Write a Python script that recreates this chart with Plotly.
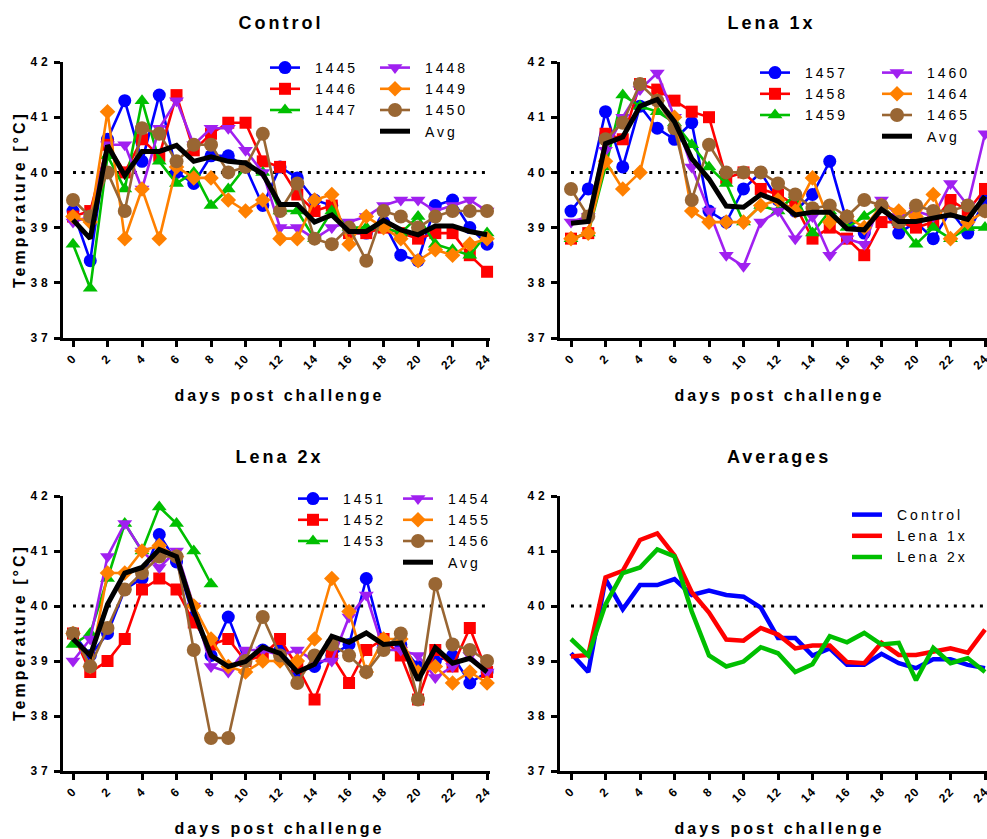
import plotly.graph_objects as go

W, H = 987, 839
days = list(range(25))

# ---------------- data ----------------
ctrl_ids = ["1445", "1446", "1447", "1448", "1449", "1450"]
c1445 = [39.3, 38.4, 40.6, 41.3, 40.2, 41.4, 40.0, 39.8, 40.3, 40.3, 40.1, 39.4, 40.1, 39.9, 39.5, 39.4, 38.9, 38.9, 39.1, 38.5, 38.4, 39.4, 39.5, 39.0, 38.7]
c1446 = [39.2, 39.3, 40.5, 40.0, 40.6, 40.3, 41.4, 40.4, 40.7, 40.9, 40.9, 40.2, 40.1, 39.6, 39.3, 39.4, 38.9, 38.9, 39.0, 38.9, 38.8, 38.9, 38.9, 38.5, 38.2]
c1447 = [38.7, 37.9, 40.3, 39.7, 41.3, 40.2, 39.8, 40.0, 39.4, 39.7, 40.1, 40.0, 39.3, 39.3, 38.8, 39.3, 39.0, 39.0, 39.0, 38.9, 39.2, 38.7, 38.6, 38.5, 38.9]
c1448 = [39.1, 39.2, 40.5, 40.5, 39.7, 40.8, 41.3, 40.5, 40.8, 40.8, 40.4, 40.0, 39.0, 39.0, 38.8, 39.0, 39.1, 39.2, 39.4, 39.5, 39.5, 39.3, 39.4, 39.5, 39.3]
c1449 = [39.2, 39.1, 41.1, 38.8, 39.7, 38.8, 40.1, 39.9, 39.9, 39.5, 39.3, 39.5, 38.8, 38.8, 39.5, 39.6, 38.7, 39.2, 39.0, 38.8, 38.4, 38.6, 38.5, 38.7, 38.8]
c1450 = [39.5, 39.2, 40.0, 39.3, 40.8, 40.7, 40.2, 40.5, 40.5, 40.0, 40.1, 40.7, 39.3, 39.8, 38.8, 38.7, 39.0, 38.4, 39.3, 39.2, 39.0, 39.2, 39.3, 39.3, 39.3]
ctrl_avg = [39.14, 38.8, 40.49, 39.94, 40.38, 40.38, 40.49, 40.2, 40.28, 40.2, 40.17, 39.97, 39.42, 39.42, 39.1, 39.23, 38.93, 38.93, 39.13, 38.96, 38.87, 39.03, 39.03, 38.93, 38.87]

l1_ids = ["1457", "1458", "1459", "1460", "1464", "1465"]
l1457 = [39.3, 39.7, 41.1, 40.1, 41.2, 40.8, 40.6, 40.9, 39.3, 39.1, 39.7, 40.0, 39.5, 39.3, 39.6, 40.2, 39.1, 38.9, 39.4, 38.9, 39.1, 38.8, 39.3, 38.9, 39.5]
l1458 = [38.8, 38.9, 40.7, 40.6, 41.6, 41.5, 41.3, 41.1, 41.0, 39.9, 40.0, 39.7, 39.6, 39.4, 38.8, 39.0, 38.8, 38.5, 39.1, 39.1, 39.0, 39.1, 39.5, 39.3, 39.7]
l1459 = [38.8, 38.9, 40.1, 41.4, 41.2, 41.1, 40.9, 40.5, 40.1, 39.8, 39.1, 39.4, 39.3, 39.6, 38.9, 39.3, 39.0, 39.2, 39.4, 39.1, 38.7, 39.0, 38.8, 39.0, 39.0]
l1460 = [39.1, 39.2, 40.4, 41.0, 41.5, 41.8, 41.0, 40.1, 39.3, 38.5, 38.3, 39.1, 39.3, 38.8, 39.2, 38.5, 38.8, 38.7, 39.5, 39.2, 39.3, 39.2, 39.8, 39.4, 40.7]
l1464 = [38.8, 38.9, 40.2, 39.7, 40.0, 41.3, 41.0, 39.3, 39.1, 39.1, 39.1, 39.4, 39.5, 39.3, 39.9, 39.1, 39.2, 39.0, 39.4, 39.3, 39.2, 39.6, 38.8, 39.1, 39.3]
l1465 = [39.7, 39.2, 40.6, 40.9, 41.6, 41.3, 40.8, 39.5, 40.5, 40.0, 40.0, 40.0, 39.8, 39.6, 39.35, 39.4, 39.2, 39.5, 39.4, 39.1, 39.4, 39.3, 39.3, 39.4, 39.3]
l1_avg = [39.08, 39.11, 40.52, 40.64, 41.2, 41.32, 40.92, 40.25, 39.88, 39.39, 39.37, 39.6, 39.48, 39.23, 39.28, 39.28, 38.98, 38.96, 39.33, 39.11, 39.11, 39.17, 39.23, 39.15, 39.57]

l2_ids = ["1451", "1452", "1453", "1454", "1455", "1456"]
m1451 = [39.5, 39.1, 39.5, 40.3, 40.5, 41.3, 40.8, 39.8, 39.1, 39.8, 39.0, 39.2, 39.2, 38.8, 38.9, 39.1, 39.3, 40.5, 39.3, 39.3, 38.9, 39.0, 39.1, 38.6, 38.8]
m1452 = [39.5, 38.8, 39.0, 39.4, 40.3, 40.5, 40.3, 39.7, 39.3, 39.4, 39.0, 39.1, 39.4, 38.9, 38.3, 39.1, 38.6, 39.2, 39.4, 39.1, 38.3, 39.2, 38.9, 39.6, 38.8]
m1453 = [39.3, 39.5, 40.5, 41.5, 41.0, 41.8, 41.5, 41.0, 40.4]
m1454 = [39.0, 39.4, 40.9, 41.5, 41.0, 40.7, 41.0, 40.0, 38.9, 38.8, 39.2, 39.2, 39.1, 39.2, 39.0, 39.0, 39.8, 40.2, 39.2, 39.2, 39.1, 38.7, 38.9, 39.1, 38.8]
m1455 = [39.5, 38.9, 40.6, 40.6, 41.0, 41.1, 40.9, 40.0, 39.4, 38.9, 38.8, 39.0, 39.0, 39.0, 39.4, 40.5, 39.9, 38.8, 39.4, 39.4, 38.8, 38.9, 38.6, 38.8, 38.6]
m1456 = [39.5, 38.9, 39.6, 40.3, 40.6, 40.9, 40.9, 39.2, 37.6, 37.6, 39.0, 39.8, 39.1, 38.6, 39.1, 39.3, 39.1, 38.8, 39.2, 39.5, 38.3, 40.4, 39.3, 39.2, 39.0]
l2_avg = [39.4, 39.1, 40.03, 40.6, 40.7, 41.03, 40.9, 39.9, 39.1, 38.9, 38.99, 39.25, 39.14, 38.8, 38.94, 39.45, 39.34, 39.51, 39.3, 39.33, 38.65, 39.24, 38.96, 39.05, 38.8]

panel_titles = ["Control", "Lena 1x", "Lena 2x", "Averages"]
avg_names = ["Control", "Lena 1x", "Lena 2x"]
x_ticks = list(range(0, 25, 2))
y_ticks = [37, 38, 39, 40, 41, 42]

# ---------------- styling ----------------
FONT = "Liberation Sans, Arial, Helvetica, sans-serif"
colors = ["#0000FF", "#FF0000", "#00BF00", "#A020F0", "#FF8000", "#996633"]
symbols = ["circle", "square", "triangle-up", "triangle-down", "diamond", "circle"]
msizes = [13, 12, 13, 13, 12, 14]

fig = go.Figure()

def add_group(ids, series, avg, ax, leg_a, leg_b):
    for i, (name, ys) in enumerate(zip(ids, series)):
        fig.add_trace(go.Scatter(
            x=days[:len(ys)], y=ys, name=name, mode="lines+markers",
            line=dict(color=colors[i], width=2.6),
            marker=dict(color=colors[i], symbol=symbols[i], size=msizes[i], line=dict(width=0)),
            xaxis="x" + ax, yaxis="y" + ax, cliponaxis=False,
            legend=leg_a if i < 3 else leg_b,
        ))
    fig.add_trace(go.Scatter(
        x=days, y=avg, name="Avg", mode="lines",
        line=dict(color="black", width=5),
        xaxis="x" + ax, yaxis="y" + ax, cliponaxis=False, legend=leg_b,
    ))

add_group(ctrl_ids, [c1445, c1446, c1447, c1448, c1449, c1450], ctrl_avg, "", "legend", "legend2")
add_group(l1_ids, [l1457, l1458, l1459, l1460, l1464, l1465], l1_avg, "2", "legend3", "legend4")
add_group(l2_ids, [m1451, m1452, m1453, m1454, m1455, m1456], l2_avg, "3", "legend5", "legend6")

for name, ys, col in zip(avg_names, [ctrl_avg, l1_avg, l2_avg], ["#0000FF", "#FF0000", "#00BF00"]):
    fig.add_trace(go.Scatter(
        x=days, y=ys, name=name, mode="lines",
        line=dict(color=col, width=4.5),
        xaxis="x4", yaxis="y4", cliponaxis=False, legend="legend7",
    ))

# ---------------- axes ----------------
def fx(p):
    return p / W

def fy(p):
    return 1 - p / H

L_dom = [fx(63), fx(490)]
R_dom = [fx(560), 1.0]
T_dom = [fy(338), fy(62)]
B_dom = [fy(771), fy(496)]
L_rng = [-0.58, 24.17]
R_rng = [-0.638, 24.116]

tickfont = dict(family=FONT, size=12, color="black", weight="bold")
axis_common = dict(showline=True, linewidth=2.6, linecolor="black", ticks="outside",
                   tickwidth=2.6, ticklen=6, tickcolor="black", showgrid=False,
                   zeroline=False, tickfont=tickfont, fixedrange=True,
                   ticklabeloverflow="allow", automargin=False)

layout = dict(width=W, height=H, margin=dict(l=0, r=0, t=0, b=0, autoexpand=False),
              plot_bgcolor="white", paper_bgcolor="white", showlegend=True,
              font=dict(family=FONT, color="black"))

axes_spec = [("", L_dom, T_dom, L_rng), ("2", R_dom, T_dom, R_rng),
             ("3", L_dom, B_dom, L_rng), ("4", R_dom, B_dom, R_rng)]
for ax, xd, yd, xr in axes_spec:
    layout["xaxis" + ax] = dict(axis_common, domain=xd, range=xr, tickvals=x_ticks,
                                tickangle=-45, anchor="y" + ax)
    layout["yaxis" + ax] = dict(axis_common, domain=yd, range=[37, 42], tickvals=y_ticks,
                                anchor="x" + ax)

fig.update_layout(**layout)

# dotted 40 °C reference lines
for ax, xr in [("", L_rng), ("2", R_rng), ("3", L_rng), ("4", R_rng)]:
    fig.add_shape(type="line", xref="x" + ax, yref="y" + ax, x0=0, x1=xr[1], y0=40, y1=40,
                  line=dict(color="black", width=3, dash="3px,5.7px"), layer="below")

# legends
leg_font = dict(family=FONT, size=14, color="black")
def leg(xp, yp):
    return dict(x=fx(xp), y=fy(yp), xanchor="left", yanchor="top", bgcolor="rgba(0,0,0,0)",
                font=leg_font, borderwidth=0, tracegroupgap=0, itemwidth=30)

fig.update_layout(
    legend=leg(265, 52), legend2=leg(375, 52),
    legend3=leg(755, 57), legend4=leg(877, 57),
    legend5=leg(293, 483), legend6=leg(398, 483),
    legend7=leg(847, 499),
)

# titles / axis labels
ann = []
title_font = dict(family=FONT, size=18, color="black", weight="bold")
lab_font = dict(family=FONT, size=16, color="black", weight="bold")
for text, xc, yc in [("Control", 281, 23), ("Lena 1x", 771, 23), ("Lena 2x", 279, 457), ("Averages", 779, 457)]:
    ann.append(dict(text=text, x=fx(xc), y=fy(yc), xref="paper", yref="paper",
                    showarrow=False, xanchor="center", yanchor="middle", font=title_font))
for xc, yc in [(279, 395), (779, 395), (279, 828), (779, 828)]:
    ann.append(dict(text="days post challenge", x=fx(xc), y=fy(yc), xref="paper", yref="paper",
                    showarrow=False, xanchor="center", yanchor="middle", font=lab_font))
for yc in [200, 633]:
    ann.append(dict(text="Temperature [°C]", x=fx(19), y=fy(yc), xref="paper", yref="paper",
                    showarrow=False, xanchor="center", yanchor="middle", textangle=-90, font=lab_font))
fig.update_layout(annotations=ann)

post = """
document.documentElement.style.cssText='margin:0;padding:0;overflow:hidden;';
document.body.style.cssText='margin:0;padding:0;overflow:hidden;';
var gd0=document.getElementById('{plot_id}');
function applySpacing(){
  var gd=document.getElementById('{plot_id}');
  if(!gd){return;}
  gd.querySelectorAll('text').forEach(function(t){
    try{
      var ls=null;
      var tc=t.getAttribute('class')||'';
      var p=t.parentNode;
      var gc=(p && p.getAttribute) ? (p.getAttribute('class')||'') : '';
      if(/^x\\d*tick$/.test(gc)){ls='1px';}
      else if(/^y\\d*tick$/.test(gc)){ls='4px';}
      else if(/legend\\d*text/.test(tc)){ls='3px'; t.style.transform='translateX(10px)';}
      else if(t.closest && t.closest('.annotation')){ls='3px';}
      if(ls){t.style.letterSpacing=ls;}
    }catch(e){}
  });
  gd.querySelectorAll('[clip-path]').forEach(function(e){
    var c=e.getAttribute('clip-path')||'';
    if(c.indexOf('legend')>=0){e.removeAttribute('clip-path');}
  });
}
applySpacing();
if(gd0 && gd0.on){gd0.on('plotly_afterplot', applySpacing);}
setTimeout(applySpacing, 0);
setTimeout(applySpacing, 200);
setTimeout(applySpacing, 800);
"""

fig.write_html("out.html", post_script=post, config={"displayModeBar": False})
